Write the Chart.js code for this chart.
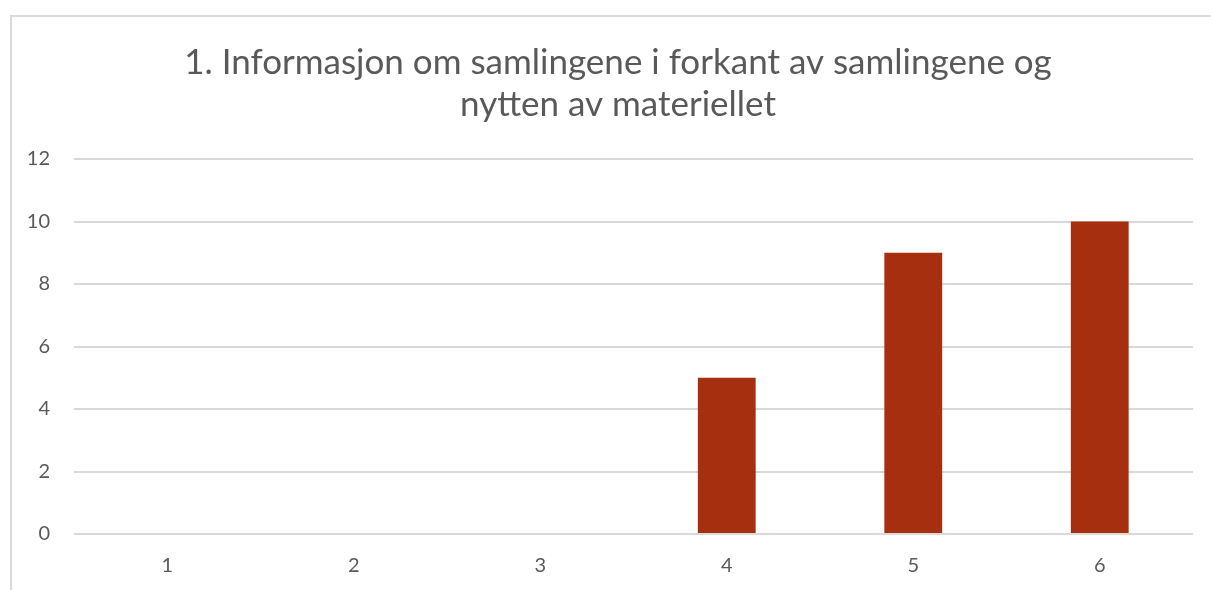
<!DOCTYPE html>
<html>
<head>
<meta charset="utf-8">
<script src="https://cdn.jsdelivr.net/npm/chart.js@4"></script>
<style>
html,body{margin:0;padding:0;background:#fff;overflow:hidden;width:1211px;height:590px;}
#frame{position:absolute;left:10px;top:15px;width:1300px;height:700px;border:2px solid #d9d9d9;box-sizing:border-box;}
#wrap{position:absolute;left:0;top:0;width:1236px;height:590px;}
</style>
</head>
<body>
<div id="frame"></div>
<div id="wrap"><canvas id="c" width="1236" height="590"></canvas></div>
<script>
const categories = ['1','2','3','4','5','6'];
const values = [0, 0, 0, 5, 9, 10];
const titleLines = ['1. Informasjon om samlingene i forkant av samlingene og', 'nytten av materiellet'];
const yTicks = [0, 2, 4, 6, 8, 10, 12];

const grey = '#595959';
const centerTitle = {
  id: 'centerTitle',
  afterLayout(chart) {
    const t = chart.titleBlock;
    if (t) { t.left = 0; t.right = chart.width; t.width = chart.width; }
  }
};
new Chart(document.getElementById('c'), {
  type: 'bar',
  data: {
    labels: categories,
    datasets: [{
      data: values,
      backgroundColor: '#A52F0F',
      borderWidth: 0,
      categoryPercentage: 1,
      barPercentage: 0.31
    }]
  },
  plugins: [centerTitle],
  options: {
    responsive: false,
    animation: false,
    devicePixelRatio: 1,
    layout: { padding: { top: 42, right: 43, left: 0, bottom: 0 } },
    plugins: {
      legend: { display: false },
      tooltip: { enabled: false },
      title: {
        display: true,
        text: titleLines,
        color: grey,
        font: { family: 'Lato', size: 35, weight: 'normal', lineHeight: 1.2 },
        padding: { top: 0, bottom: 33 }
      }
    },
    scales: {
      x: {
        grid: { display: false, drawTicks: false },
        border: { display: false },
        ticks: { color: grey, font: { family: 'Lato', size: 20 }, padding: 20 },
        afterFit: s => { s.height = 56; }
      },
      y: {
        min: 0, max: 12,
        afterBuildTicks: s => { s.ticks = yTicks.map(v => ({ value: v })); },
        grid: { color: '#d9d9d9', lineWidth: 2, drawTicks: false },
        border: { display: false },
        ticks: { color: grey, font: { family: 'Lato', size: 20 }, padding: 24 },
        afterFit: s => { s.width = 74; }
      }
    }
  }
});
</script>
</body>
</html>
